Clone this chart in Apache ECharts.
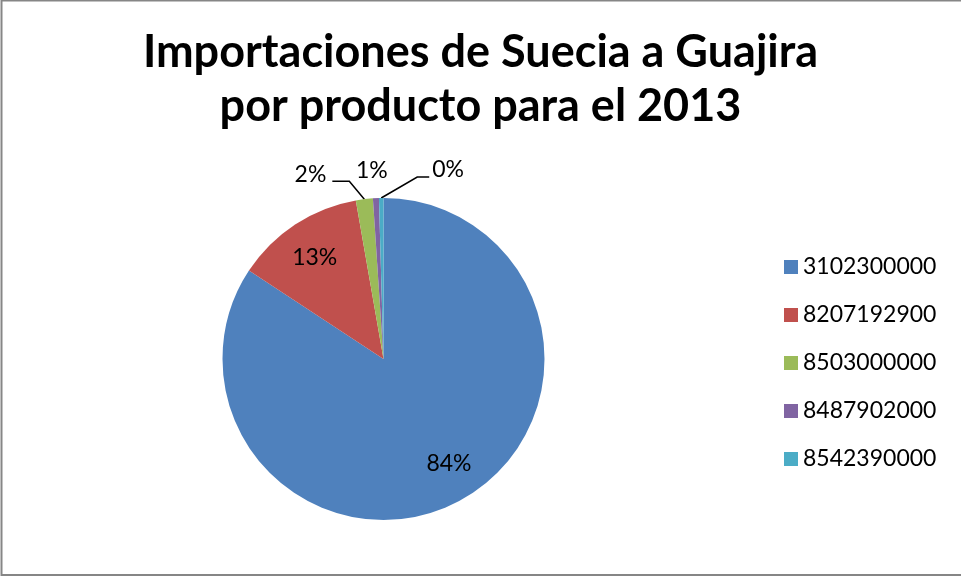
<!DOCTYPE html>
<html>
<head>
<meta charset="utf-8">
<script src="https://cdn.jsdelivr.net/npm/echarts@6/dist/echarts.min.js"></script>
<style>
  html, body { margin: 0; padding: 0; background: #fff; }
  #chart { width: 961px; height: 577px; }
</style>
</head>
<body>
<div id="chart"></div>
<script>
// productos (codigo arancelario) y su participacion en %
const productos = ['3102300000', '8207192900', '8503000000', '8487902000', '8542390000'];
const participacion = [84.25, 13.0, 1.7, 0.6, 0.45];
const colores = ['#4F81BD', '#C0504D', '#9BBB59', '#8064A2', '#4BACC6'];

const centro = [383.5, 359];
const fuente = 'Lato, "Open Sans", sans-serif';

let chart = echarts.init(document.getElementById('chart'), null, { renderer: 'canvas' });

let datos = productos.map((p, i) => {
  let item = { name: p, value: participacion[i], itemStyle: { color: colores[i] } };
  if (i < 2) {
    item.label = { position: 'inside' };
    item.labelLine = { show: false };
  }
  if (i === 3) {
    // 1% sin linea guia
    item.labelLine = { lineStyle: { width: 0 } };
  }
  return item;
});

let option = {
  backgroundColor: '#fff',
  animation: false,
  title: {
    text: 'Importaciones de Suecia a Guajira\npor producto para el 2013',
    left: 'center',
    top: 20,
    textStyle: {
      fontFamily: fuente,
      fontWeight: 'bold',
      fontSize: 45,
      lineHeight: 54,
      color: '#000'
    }
  },
  legend: {
    orient: 'vertical',
    left: 779,
    top: 250,
    itemWidth: 14,
    itemHeight: 14,
    itemGap: 24,
    icon: 'rect',
    textStyle: { fontFamily: fuente, fontSize: 23, lineHeight: 24, color: '#000' },
    data: productos
  },
  graphic: [{
    type: 'rect',
    shape: { x: 1.5, y: 0.5, width: 962, height: 574.5 },
    style: { fill: 'none', stroke: '#868686', lineWidth: 2 },
    silent: true
  }],
  series: [{
    type: 'pie',
    center: centro,
    radius: 161,
    startAngle: 90,
    clockwise: true,
    avoidLabelOverlap: false,
    label: {
      show: true,
      position: 'outside',
      formatter: '{d}%',
      fontFamily: fuente,
      fontSize: 23,
      color: '#000'
    },
    percentPrecision: 0,
    labelLine: { show: true, length: 15, length2: 15, lineStyle: { color: '#000', width: 1.5 } },
    itemStyle: { borderWidth: 0 },
    emphasis: { disabled: true },
    labelLayout: function (params) {
      let i = params.dataIndex;
      let r = params.labelRect;
      if (i < 2) {
        // Excel pone las etiquetas a ~3/4 del radio
        let lx = r.x + r.width / 2, ly = r.y + r.height / 2;
        let ajuste = i === 0 ? [6, -6] : [0, 3];
        return { dx: (lx - centro[0]) * 0.5 + ajuste[0], dy: (ly - centro[1]) * 0.5 + ajuste[1] };
      }
      let p = params.labelLinePoints[0];
      if (i === 2) {
        let k = [p[0] - 15, p[1] - 18];
        let e = [k[0] - 17, k[1]];
        return { x: e[0] - 6, y: e[1] - 7, align: 'right', verticalAlign: 'middle', labelLinePoints: [p, k, e] };
      }
      if (i === 3) {
        return { x: p[0] - 4, y: p[1] - 28, align: 'center', verticalAlign: 'middle', labelLinePoints: [p, p, p] };
      }
      let k = [p[0] + 36, p[1] - 21];
      let e = [k[0] + 12, k[1]];
      return { x: e[0] + 3, y: e[1] - 7, align: 'left', verticalAlign: 'middle', labelLinePoints: [p, k, e] };
    },
    data: datos
  }]
};

chart.setOption(option);
</script>
</body>
</html>
